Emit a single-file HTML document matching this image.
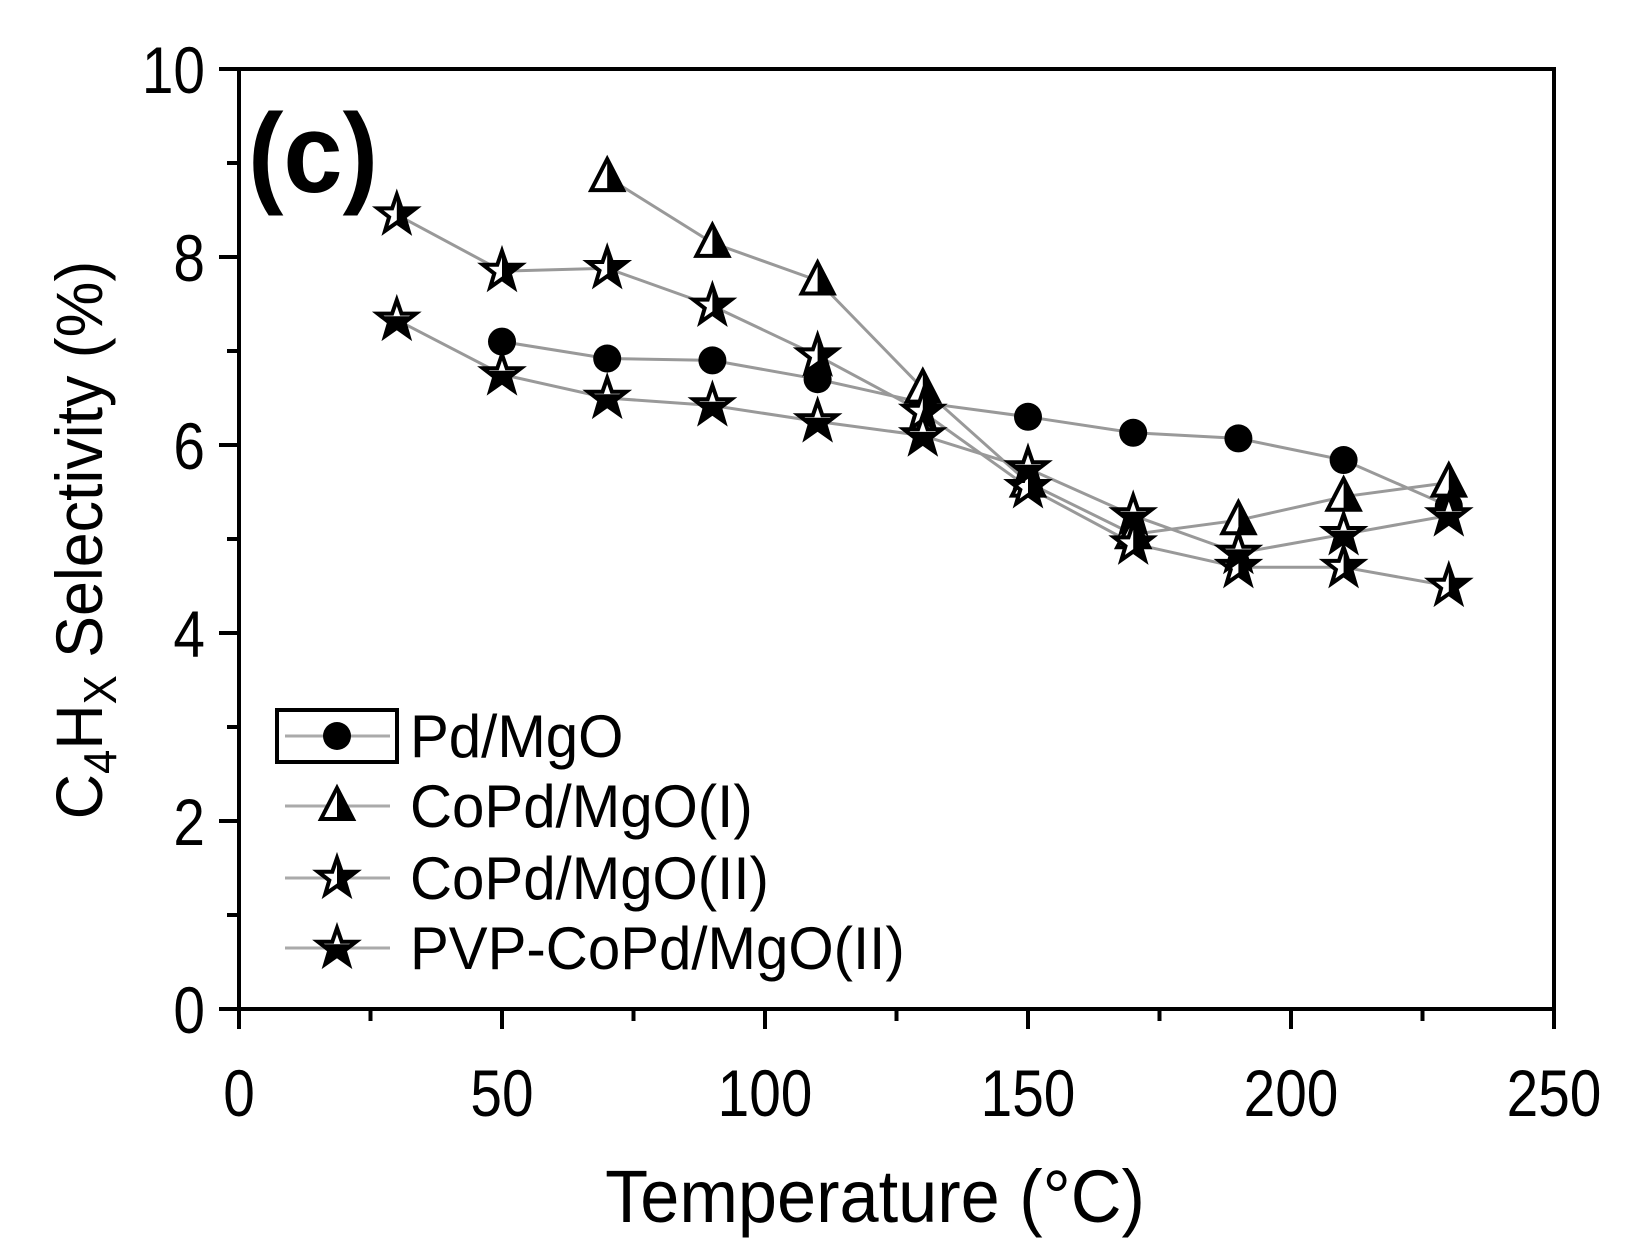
<!DOCTYPE html>
<html><head><meta charset="utf-8"><style>body{margin:0;background:#fff}svg{display:block}text{font-family:"Liberation Sans",sans-serif;fill:#000}</style></head>
<body>
<svg width="1640" height="1252" viewBox="0 0 1640 1252" xmlns="http://www.w3.org/2000/svg">
<defs>
<clipPath id="R" clipPathUnits="objectBoundingBox"><rect x="0.5" y="0" width="0.5" height="1"/></clipPath>
<clipPath id="B" clipPathUnits="objectBoundingBox"><rect x="0" y="0.45" width="1" height="0.6"/></clipPath>
<polygon id="st" points="0,-20 4.7,-6.3 19,-6.3 7.7,2.4 11.8,16.2 0,7.9 -11.8,16.2 -7.7,2.4 -19,-6.3 -4.7,-6.3"/>
<polygon id="tr" points="0,-18 16,13 -16,13"/>
</defs>
<g fill="none" stroke="#000" stroke-width="4">
<rect x="239" y="69" width="1315" height="940"/>
</g>
<g stroke="#000" stroke-width="4" id="ticks"></g>
<g id="plot"></g>
<text transform="translate(248,192) scale(0.95,1)" font-size="112" font-weight="bold">(c)</text>
<g font-size="66" text-anchor="end" id="yl"></g>
<g font-size="66" text-anchor="middle" id="xl"></g>
<text transform="translate(875,1222) scale(0.95,1)" font-size="74" text-anchor="middle">Temperature (°C)</text>
<text transform="translate(102,540) rotate(-90) scale(0.95,1)" font-size="66" text-anchor="middle">C<tspan font-size="46" dy="14">4</tspan><tspan dy="-14">H</tspan><tspan font-size="46" dy="14">X</tspan><tspan dy="-14"> Selectivity (%)</tspan></text>
<g id="leg"></g>
<script>
const NS="http://www.w3.org/2000/svg";
function el(p,t,a){const e=document.createElementNS(NS,t);for(const k in a)e.setAttribute(k,a[k]);p.appendChild(e);return e;}
const X=v=>239+v*5.26,Y=v=>1009-v*94;
const tk=document.getElementById('ticks');
for(let v=0;v<=250;v+=25){el(tk,'line',{x1:X(v),x2:X(v),y1:1009,y2:1009+(v%50?12:20)});}
for(let v=0;v<=10;v++){el(tk,'line',{x1:239,x2:239-(v%2?12:20),y1:Y(v),y2:Y(v)});}
const yl=document.getElementById('yl');for(let v=0;v<=10;v+=2){el(yl,'text',{transform:`translate(205,${Y(v)+24}) scale(0.86,1)`}).textContent=v;}
const xl=document.getElementById('xl');for(let v=0;v<=250;v+=50){el(xl,'text',{transform:`translate(${X(v)},1116) scale(0.86,1)`}).textContent=v;}
const P=document.getElementById('plot');
const S=[
 {t:'c',d:[[50,7.1],[70,6.92],[90,6.9],[110,6.7],[130,6.45],[150,6.3],[170,6.13],[190,6.07],[210,5.84],[230,5.35]]},
 {t:'t',d:[[70,8.85],[90,8.15],[110,7.75],[130,6.6],[150,5.6],[170,5.05],[190,5.2],[210,5.45],[230,5.6]]},
 {t:'s2',d:[[30,8.45],[50,7.85],[70,7.88],[90,7.48],[110,6.95],[130,6.35],[150,5.55],[170,4.95],[190,4.7],[210,4.7],[230,4.5]]},
 {t:'sp',d:[[30,7.33],[50,6.75],[70,6.5],[90,6.42],[110,6.25],[130,6.1],[150,5.75],[170,5.25],[190,4.85],[210,5.05],[230,5.25]]}];
S.forEach(s=>el(P,'polyline',{points:s.d.map(p=>X(p[0])+','+Y(p[1])).join(' '),fill:'none',stroke:'#999','stroke-width':3}));
function mk(g,t,x,y){
 if(t=='c'){el(g,'circle',{cx:x,cy:y,r:14,fill:'#000'});return;}
 const id=t=='t'?'#tr':'#st',cp=t=='sp'?'url(#B)':'url(#R)';
 el(g,'use',{href:id,x:x,y:y,fill:'#fff',stroke:'#000','stroke-width':4,'stroke-linejoin':'miter'});
 const u=el(g,'g',{transform:`translate(${x},${y})`});
 el(u,'polygon',{points:document.querySelector(id).getAttribute('points'),fill:'#000','clip-path':cp});
}
S.forEach(s=>s.d.forEach(p=>mk(P,s.t,X(p[0]),Y(p[1]))));
const L=document.getElementById('leg');
el(L,'rect',{x:277,y:710,width:120,height:52,fill:'none',stroke:'#000','stroke-width':4});
const names=['Pd/MgO','CoPd/MgO(I)','CoPd/MgO(II)','PVP-CoPd/MgO(II)'],ys=[736,806,878,948],ts=['c','t','s2','sp'];
for(let i=0;i<4;i++){el(L,'line',{x1:285,x2:390,y1:ys[i],y2:ys[i],stroke:'#aaa','stroke-width':3});
 mk(L,ts[i],337,ys[i]);el(L,'text',{transform:`translate(410,${ys[i]+21}) scale(0.97,1)`,'font-size':60}).textContent=names[i];}
</script>
</svg>
</body></html>
